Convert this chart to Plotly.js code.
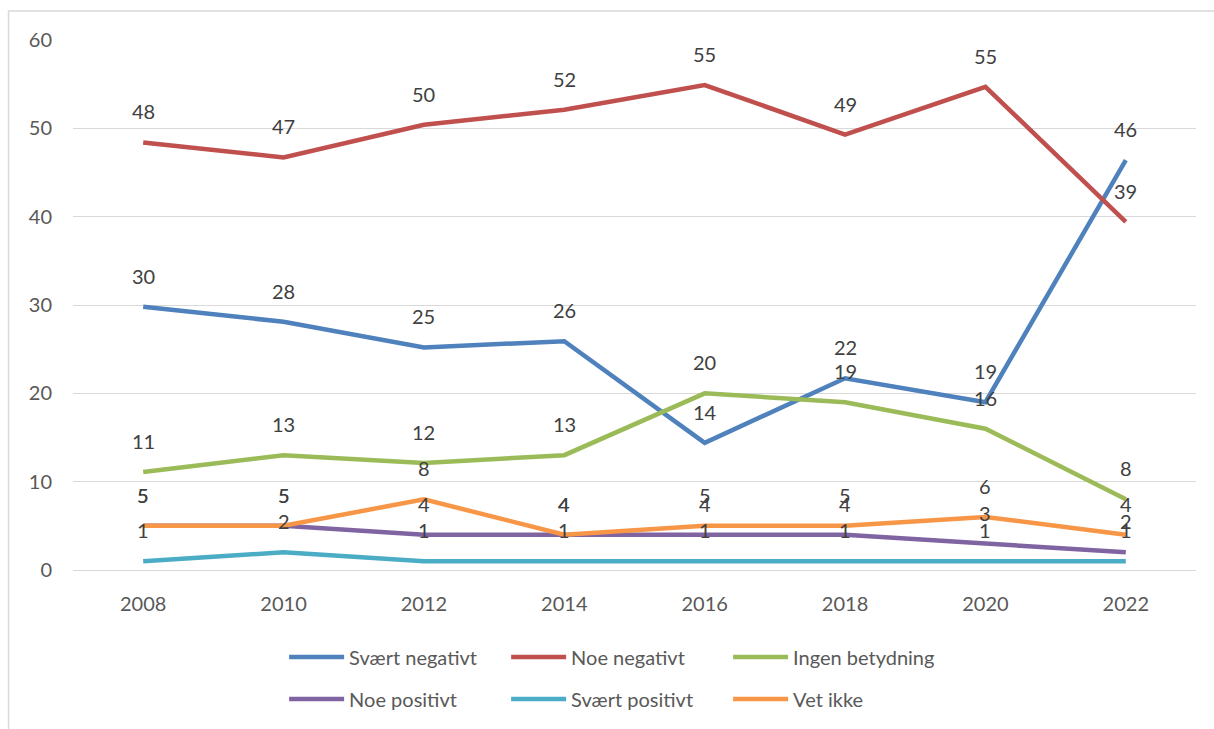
<!DOCTYPE html>
<html><head><meta charset="utf-8">
<script src="https://cdn.plot.ly/plotly-3.0.1.min.js"></script>
<style>html,body{margin:0;padding:0;background:#fff}#chart{width:1214px;height:729px}</style>
</head><body><div id="chart"></div>
<script>
// ---- data ----
const years = ['2008', '2010', '2012', '2014', '2016', '2018', '2020', '2022'];
const seriesNames = ['Svært negativt', 'Noe negativt', 'Ingen betydning', 'Noe positivt', 'Svært positivt', 'Vet ikke'];
const svaertNegativt = [29.8, 28.1, 25.2, 25.9, 14.4, 21.7, 19.0, 46.4];
const noeNegativt = [48.4, 46.7, 50.4, 52.1, 54.9, 49.3, 54.7, 39.4];
const ingenBetydning = [11.1, 13.0, 12.1, 13.0, 20.0, 19.0, 16.0, 8.0];
const noePositivt = [5, 5, 4, 4, 4, 4, 3, 2];
const svaertPositivt = [1, 2, 1, 1, 1, 1, 1, 1];
const vetIkke = [5, 5, 8, 4, 5, 5, 6, 4];
const yTicks = [0, 10, 20, 30, 40, 50, 60];

// ---- styles ----
const colors = ['#4F81BD', '#C0504D', '#9BBB59', '#8064A2', '#4BACC6', '#F79646'];
const legendIds = ['legend', 'legend', 'legend', 'legend2', 'legend2', 'legend2'];
const FONT = 'Lato, "Open Sans", sans-serif';
const allSeries = [svaertNegativt, noeNegativt, ingenBetydning, noePositivt, svaertPositivt, vetIkke];

const traces = allSeries.map((vals, i) => ({
  type: 'scatter',
  mode: 'lines',
  name: seriesNames[i],
  x: years,
  y: vals,
  line: {color: colors[i], width: 4.5},
  legend: legendIds[i],
  hoverinfo: 'x+y+name'
}));

// data labels, positioned from the data through the axes (x by category index)
const annotations = [];
allSeries.forEach((vals, i) => {
  vals.forEach((v, j) => {
    annotations.push({
      x: j, y: v, xref: 'x', yref: 'y',
      text: String(Math.round(v)),
      showarrow: false, yshift: 31,
      font: {family: FONT, size: 20, color: '#404040'}
    });
  });
});

const legendCommon = {
  orientation: 'h', xanchor: 'left', yanchor: 'middle',
  x: 0.188, entrywidth: 152, entrywidthmode: 'pixels', itemwidth: 55,
  font: {family: FONT, size: 20, color: '#595959'},
  bgcolor: 'rgba(0,0,0,0)', traceorder: 'normal'
};

const layout = {
  width: 1214, height: 729,
  margin: {l: 73, r: 18, t: 40, b: 158},
  paper_bgcolor: '#ffffff', plot_bgcolor: '#ffffff',
  font: {family: FONT, size: 20, color: '#595959'},
  showlegend: true,
  xaxis: {
    type: 'category', range: [-0.5, 7.5],
    showgrid: false, zeroline: false,
    showline: true, linecolor: '#d9d9d9', linewidth: 1,
    ticks: '', ticklabelstandoff: 16,
    tickfont: {family: FONT, size: 20, color: '#595959'}
  },
  yaxis: {
    range: [0, 60], tickvals: yTicks, ticktext: yTicks.map(String),
    showgrid: true, gridcolor: '#d9d9d9', gridwidth: 1,
    zeroline: false, showline: false, ticks: '', ticklabelstandoff: 20,
    tickfont: {family: FONT, size: 20, color: '#595959'}
  },
  legend: Object.assign({}, legendCommon, {y: -0.162}),
  legend2: Object.assign({}, legendCommon, {y: -0.241}),
  annotations: annotations,
  shapes: [{
    type: 'rect', xref: 'paper', yref: 'paper',
    x0: -0.0574, x1: 1.05, y0: -0.32, y1: 1.0546,
    line: {color: '#d9d9d9', width: 1.5}, layer: 'below'
  }]
};

Plotly.newPlot('chart', traces, layout, {displayModeBar: false});
</script>
</body></html>
